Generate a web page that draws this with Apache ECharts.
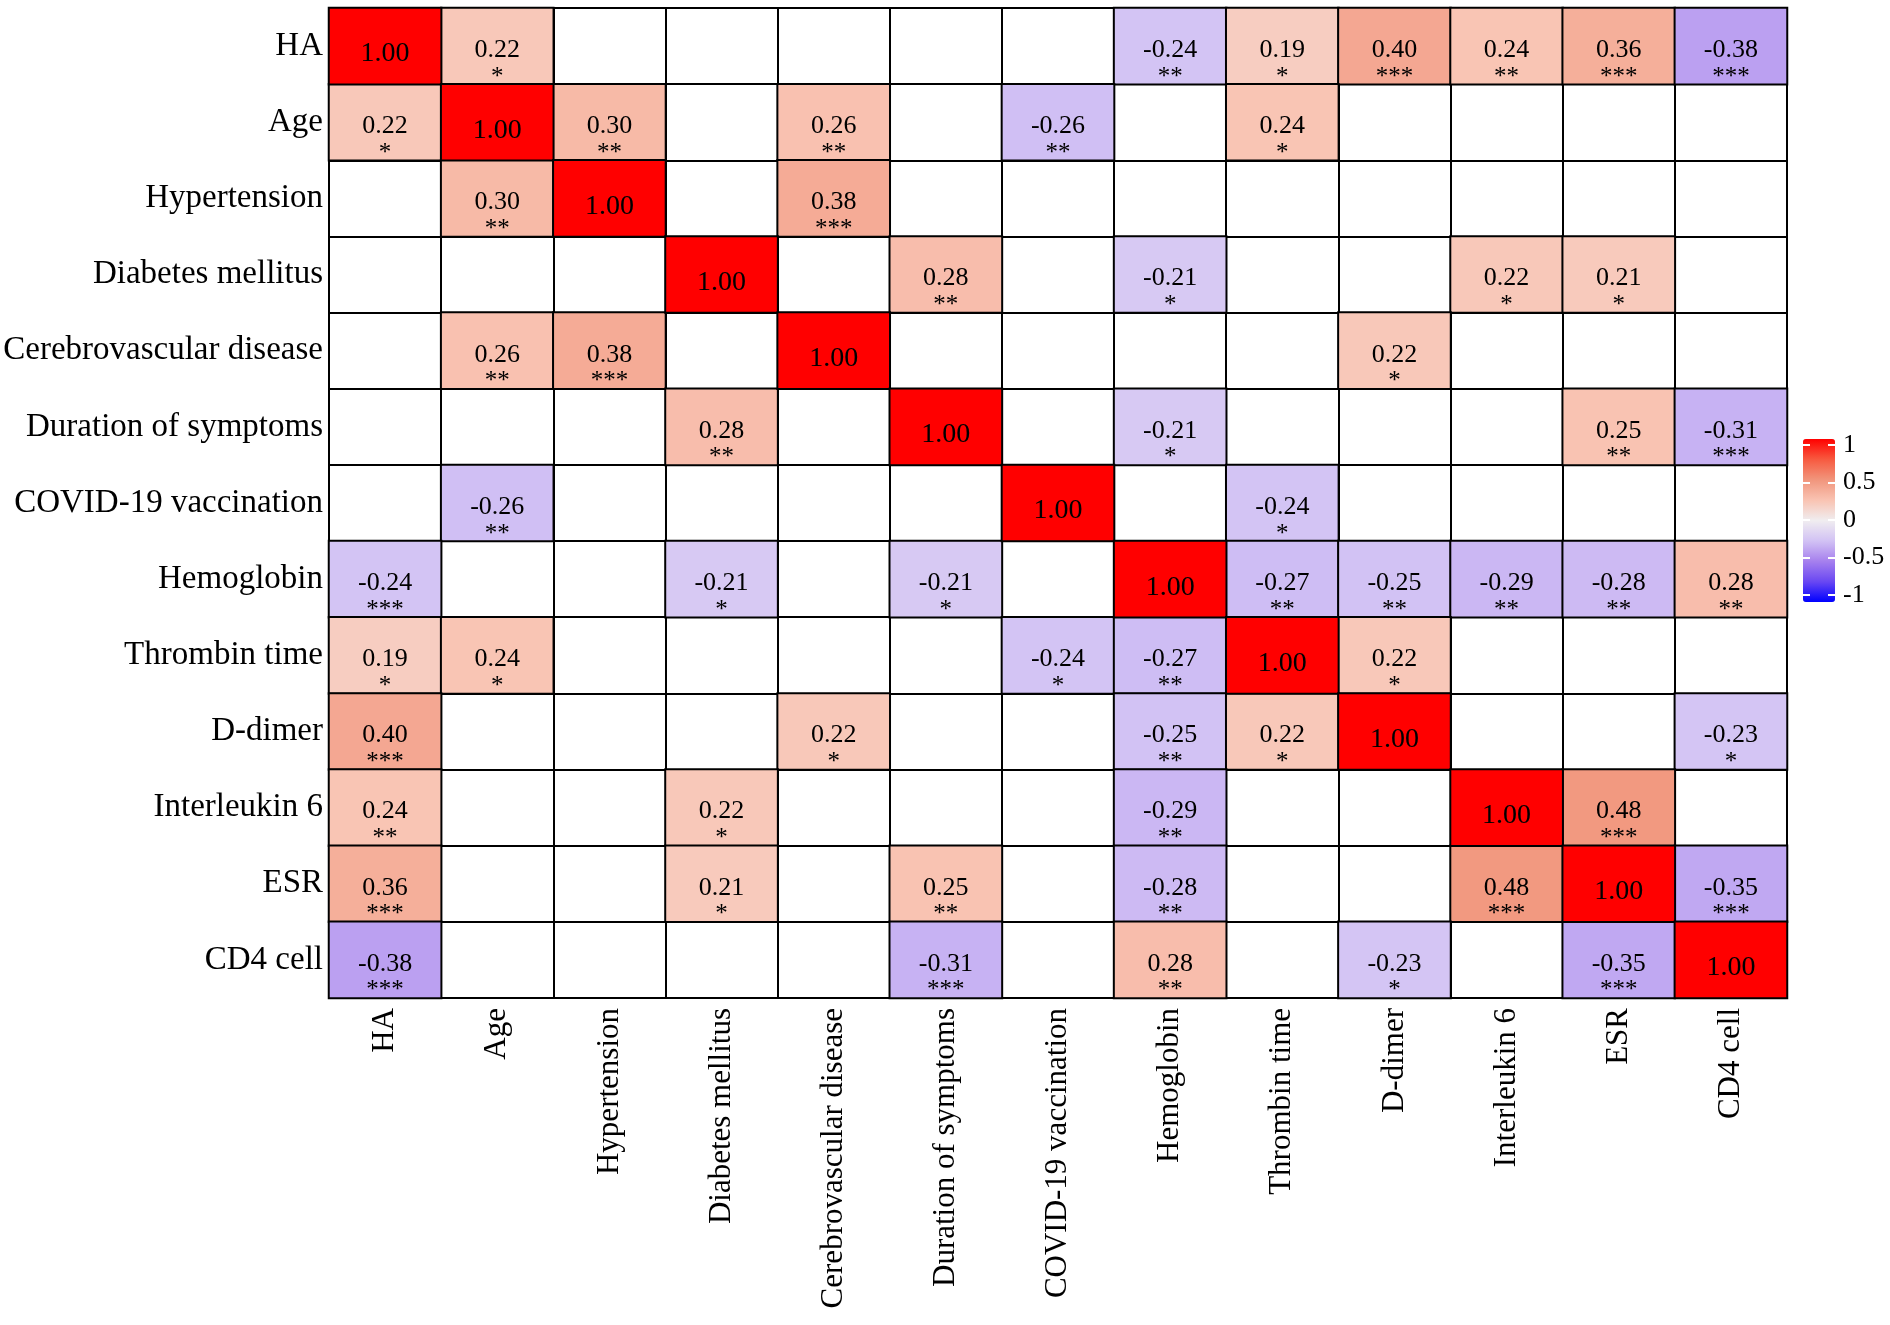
<!DOCTYPE html>
<html>
<head>
<meta charset="utf-8">
<script src="https://cdn.jsdelivr.net/npm/echarts@6/dist/echarts.min.js"></script>
<style>
html,body{margin:0;padding:0;background:#fff;}
#chart{width:1890px;height:1325px;}
</style>
</head>
<body>
<div id="chart"></div>
<script>
const categories = ['HA','Age','Hypertension','Diabetes mellitus','Cerebrovascular disease','Duration of symptoms','COVID-19 vaccination','Hemoglobin','Thrombin time','D-dimer','Interleukin 6','ESR','CD4 cell'];
const n = null;
// correlation coefficients (only significant ones shown), rows top to bottom, columns left to right
const corr = [
  [1.00, 0.22, n, n, n, n, n, -0.24, 0.19, 0.40, 0.24, 0.36, -0.38],
  [0.22, 1.00, 0.30, n, 0.26, n, -0.26, n, 0.24, n, n, n, n],
  [n, 0.30, 1.00, n, 0.38, n, n, n, n, n, n, n, n],
  [n, n, n, 1.00, n, 0.28, n, -0.21, n, n, 0.22, 0.21, n],
  [n, 0.26, 0.38, n, 1.00, n, n, n, n, 0.22, n, n, n],
  [n, n, n, 0.28, n, 1.00, n, -0.21, n, n, n, 0.25, -0.31],
  [n, -0.26, n, n, n, n, 1.00, n, -0.24, n, n, n, n],
  [-0.24, n, n, -0.21, n, -0.21, n, 1.00, -0.27, -0.25, -0.29, -0.28, 0.28],
  [0.19, 0.24, n, n, n, n, -0.24, -0.27, 1.00, 0.22, n, n, n],
  [0.40, n, n, n, 0.22, n, n, -0.25, 0.22, 1.00, n, n, -0.23],
  [0.24, n, n, 0.22, n, n, n, -0.29, n, n, 1.00, 0.48, n],
  [0.36, n, n, 0.21, n, 0.25, n, -0.28, n, n, 0.48, 1.00, -0.35],
  [-0.38, n, n, n, n, -0.31, n, 0.28, n, -0.23, n, -0.35, 1.00]
];
// significance stars
const stars = [
  ['', '*', '', '', '', '', '', '**', '*', '***', '**', '***', '***'],
  ['*', '', '**', '', '**', '', '**', '', '*', '', '', '', ''],
  ['', '**', '', '', '***', '', '', '', '', '', '', '', ''],
  ['', '', '', '', '', '**', '', '*', '', '', '*', '*', ''],
  ['', '**', '***', '', '', '', '', '', '', '*', '', '', ''],
  ['', '', '', '**', '', '', '', '*', '', '', '', '**', '***'],
  ['', '**', '', '', '', '', '', '', '*', '', '', '', ''],
  ['***', '', '', '*', '', '*', '', '', '**', '**', '**', '**', '**'],
  ['*', '*', '', '', '', '', '*', '**', '', '*', '', '', ''],
  ['***', '', '', '', '*', '', '', '**', '*', '', '', '', '*'],
  ['**', '', '', '*', '', '', '', '**', '', '', '', '***', ''],
  ['***', '', '', '*', '', '**', '', '**', '', '', '***', '', '***'],
  ['***', '', '', '', '', '***', '', '**', '', '*', '', '***', '']
];
const legendTicks = [-1, -0.5, 0, 0.5, 1];
const paletteStops = ['#0000FF', '#6A48F2', '#A680EE', '#D2C2F4', '#F0EDF0', '#F9C3B2', '#F1957C', '#F75A40', '#FF0000'];

const FONT = '"Liberation Serif", "DejaVu Serif", serif';

const offDiag = [];
const diag = [];
for (let i = 0; i < categories.length; i++) {
  for (let j = 0; j < categories.length; j++) {
    const v = corr[i][j];
    if (v === null) continue;
    if (i === j) diag.push([j, i, v]);
    else offDiag.push({ value: [j, i, v], stars: stars[i][j] });
  }
}

const chart = echarts.init(document.getElementById('chart'));
chart.setOption({
  backgroundColor: '#fff',
  animation: false,
  grid: [
    { left: 329, top: 8, width: 1458, height: 990, show: true, borderColor: '#000', borderWidth: 2, backgroundColor: '#fff' },
    { left: 1803, top: 445, width: 32, height: 150, show: false }
  ],
  xAxis: [
    {
      type: 'category', data: categories, gridIndex: 0, position: 'bottom',
      axisLine: { show: true, lineStyle: { color: '#000', width: 2 } },
      axisTick: { show: false },
      splitLine: { show: true, lineStyle: { color: '#000', width: 2 } },
      axisLabel: { rotate: 90, fontFamily: FONT, fontSize: 31, color: '#000', margin: 10, interval: 0 }
    },
    { type: 'category', data: [''], gridIndex: 1, show: false }
  ],
  yAxis: [
    {
      type: 'category', data: categories, gridIndex: 0, inverse: true,
      axisLine: { show: true, lineStyle: { color: '#000', width: 2 } },
      axisTick: { show: false },
      splitLine: { show: true, lineStyle: { color: '#000', width: 2 } },
      axisLabel: { fontFamily: FONT, fontSize: 33, color: '#000', margin: 6, interval: 0 }
    },
    {
      type: 'value', gridIndex: 1, min: legendTicks[0], max: legendTicks[legendTicks.length - 1], interval: 0.5,
      position: 'right', z: 10,
      axisLine: { show: false },
      axisTick: { show: true, inside: true, length: 7, lineStyle: { color: '#fff', width: 2 } },
      splitLine: { show: false },
      axisLabel: { fontFamily: FONT, fontSize: 26, color: '#000', margin: 8 }
    },
    {
      type: 'value', gridIndex: 1, min: legendTicks[0], max: legendTicks[legendTicks.length - 1], interval: 0.5,
      position: 'left', z: 10,
      axisLine: { show: false },
      axisTick: { show: true, inside: true, length: 7, lineStyle: { color: '#fff', width: 2 } },
      splitLine: { show: false },
      axisLabel: { show: false }
    }
  ],
  visualMap: {
    type: 'continuous', min: -1, max: 1, calculable: false, seriesIndex: [0, 1],
    orient: 'vertical', left: 1803, top: 439, itemWidth: 32, itemHeight: 163, padding: 0,
    inRange: { color: paletteStops }, text: null, showLabel: false
  },
  series: [
    {
      type: 'heatmap', xAxisIndex: 0, yAxisIndex: 0, data: offDiag,
      itemStyle: { borderColor: '#000', borderWidth: 2 },
      emphasis: { disabled: true },
      label: {
        show: true, offset: [0, 19],
        formatter: p => '{v|' + p.value[2].toFixed(2) + '}\n{s|' + p.data.stars + '}',
        rich: {
          v: { fontFamily: FONT, fontSize: 26, color: '#000', lineHeight: 24 },
          s: { fontFamily: FONT, fontSize: 25, color: '#000', lineHeight: 30 }
        }
      }
    },
    {
      type: 'heatmap', xAxisIndex: 0, yAxisIndex: 0, data: diag,
      itemStyle: { borderColor: '#000', borderWidth: 2 },
      emphasis: { disabled: true },
      label: {
        show: true, offset: [0, 8], fontFamily: FONT, fontSize: 28, color: '#000',
        formatter: p => p.value[2].toFixed(2)
      }
    }
  ]
});
</script>
</body>
</html>
